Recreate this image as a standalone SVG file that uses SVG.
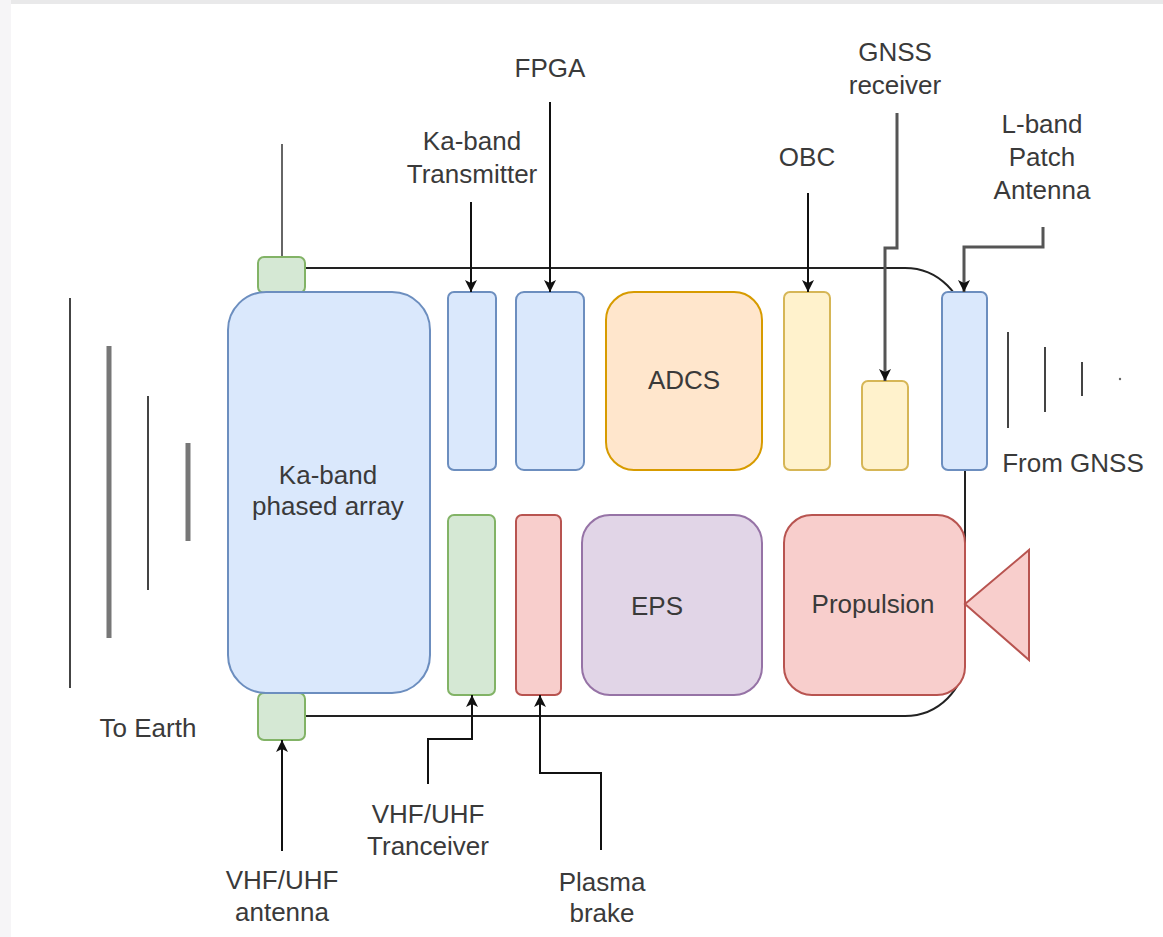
<svg xmlns="http://www.w3.org/2000/svg" width="1163" height="937" viewBox="0 0 1163 937">
<style>
text{font-family:"Liberation Sans",Arial,sans-serif;font-size:26px;fill:#3a3a3a;text-anchor:middle}
.blue{fill:#dae8fc;stroke:#6c8ebf;stroke-width:2}
.green{fill:#d5e8d4;stroke:#82b366;stroke-width:2}
.orange{fill:#ffe6cc;stroke:#d79b00;stroke-width:2}
.yellow{fill:#fff2cc;stroke:#d6b656;stroke-width:2}
.purple{fill:#e1d5e7;stroke:#9673a6;stroke-width:2}
.red{fill:#f8cecc;stroke:#b85450;stroke-width:2}
.conn{fill:none;stroke:#111;stroke-width:2}
.conng{fill:none;stroke:#555;stroke-width:3}
.wave{stroke:#444;stroke-width:2}
.waveg{stroke:#777;stroke-width:5}
</style>
<defs>
<marker id="arr" markerUnits="userSpaceOnUse" markerWidth="14" markerHeight="14" refX="13" refY="7" orient="auto">
<path d="M1,1 L13,7 L1,13 L4,7 z" fill="#111"/>
</marker>
</defs>
<rect x="0" y="0" width="1163" height="937" fill="#fff"/>
<rect x="0" y="0" width="1163" height="4" fill="#e9e9ea"/>
<rect x="0" y="0" width="11" height="937" fill="#f6f5f7"/>
<g id="structure">
<path d="M305,268 H905 A60,60 0 0 1 965,328 V656 A60,60 0 0 1 905,716 H305" fill="none" stroke="#222" stroke-width="2"/>
</g>
<g id="to-earth-waves">
<line class="wave" x1="70" y1="298" x2="70" y2="688"/>
<line class="waveg" x1="109" y1="346" x2="109" y2="638"/>
<line class="wave" x1="148" y1="396" x2="148" y2="590"/>
<line class="waveg" x1="188" y1="443" x2="188" y2="541"/>
<text x="148" y="737">To Earth</text>
</g>
<g id="gnss-waves">
<line class="wave" x1="1008" y1="332" x2="1008" y2="428"/>
<line class="wave" x1="1045" y1="347" x2="1045" y2="412"/>
<line class="wave" x1="1082" y1="362" x2="1082" y2="396"/>
<circle cx="1120" cy="379" r="1.2" fill="#666"/>
<text x="1073" y="472">From GNSS</text>
</g>
<g id="vhf-antenna-top">
<line x1="282" y1="144" x2="282" y2="257" stroke="#666" stroke-width="2"/>
<rect class="green" x="258" y="257" width="47" height="36" rx="6"/>
</g>
<g id="vhf-antenna-bottom">
<rect class="green" x="258" y="693" width="47" height="47" rx="6"/>
</g>
<g id="phased-array">
<rect class="blue" x="228" y="292" width="202" height="401" rx="38"/>
<text x="328" y="484">Ka-band</text>
<text x="328" y="515">phased array</text>
</g>
<g id="ka-transmitter"><rect class="blue" x="448" y="292" width="48" height="178" rx="6"/></g>
<g id="fpga"><rect class="blue" x="516" y="292" width="68" height="178" rx="8"/></g>
<g id="adcs"><rect class="orange" x="606" y="292" width="156" height="178" rx="28"/><text x="684" y="389">ADCS</text></g>
<g id="obc"><rect class="yellow" x="784" y="292" width="46" height="178" rx="6"/></g>
<g id="gnss-receiver"><rect class="yellow" x="862" y="381" width="46" height="89" rx="6"/></g>
<g id="lband-antenna"><rect class="blue" x="942" y="292" width="45" height="178" rx="6"/></g>
<g id="vhf-transceiver"><rect class="green" x="448" y="515" width="47" height="180" rx="6"/></g>
<g id="plasma-brake"><rect class="red" x="516" y="515" width="45" height="180" rx="6"/></g>
<g id="eps"><rect class="purple" x="582" y="515" width="180" height="180" rx="28"/><text x="657" y="615">EPS</text></g>
<g id="propulsion"><rect class="red" x="784" y="515" width="181" height="180" rx="28"/><text x="873" y="613">Propulsion</text></g>
<g id="nozzle"><polygon class="red" points="965,604 1029,550 1029,660"/></g>
<g id="labels">
<text x="550" y="77">FPGA</text>
<text x="472" y="150">Ka-band</text>
<text x="472" y="183">Transmitter</text>
<text x="807" y="166">OBC</text>
<text x="895" y="61">GNSS</text>
<text x="895" y="94">receiver</text>
<text x="1042" y="133">L-band</text>
<text x="1042" y="166">Patch</text>
<text x="1042" y="199">Antenna</text>
<text x="428" y="823">VHF/UHF</text>
<text x="428" y="855">Tranceiver</text>
<text x="282" y="889">VHF/UHF</text>
<text x="282" y="921">antenna</text>
<text x="602" y="891">Plasma</text>
<text x="602" y="922">brake</text>
</g>
<g id="connectors">
<path class="conn" d="M471,202 V292" marker-end="url(#arr)"/>
<path class="conn" d="M550,102 V292" marker-end="url(#arr)"/>
<path class="conn" d="M808,193 V292" marker-end="url(#arr)"/>
<path class="conng" d="M897,113 V248 H885 V381" marker-end="url(#arr)"/>
<path class="conng" d="M1043,227 V247 H964 V292" marker-end="url(#arr)"/>
<path class="conn" d="M282,851 V740" marker-end="url(#arr)"/>
<path class="conn" d="M428,784 V739 H472 V695" marker-end="url(#arr)"/>
<path class="conn" d="M601,850 V773 H540 V695" marker-end="url(#arr)"/>
</g>
</svg>
